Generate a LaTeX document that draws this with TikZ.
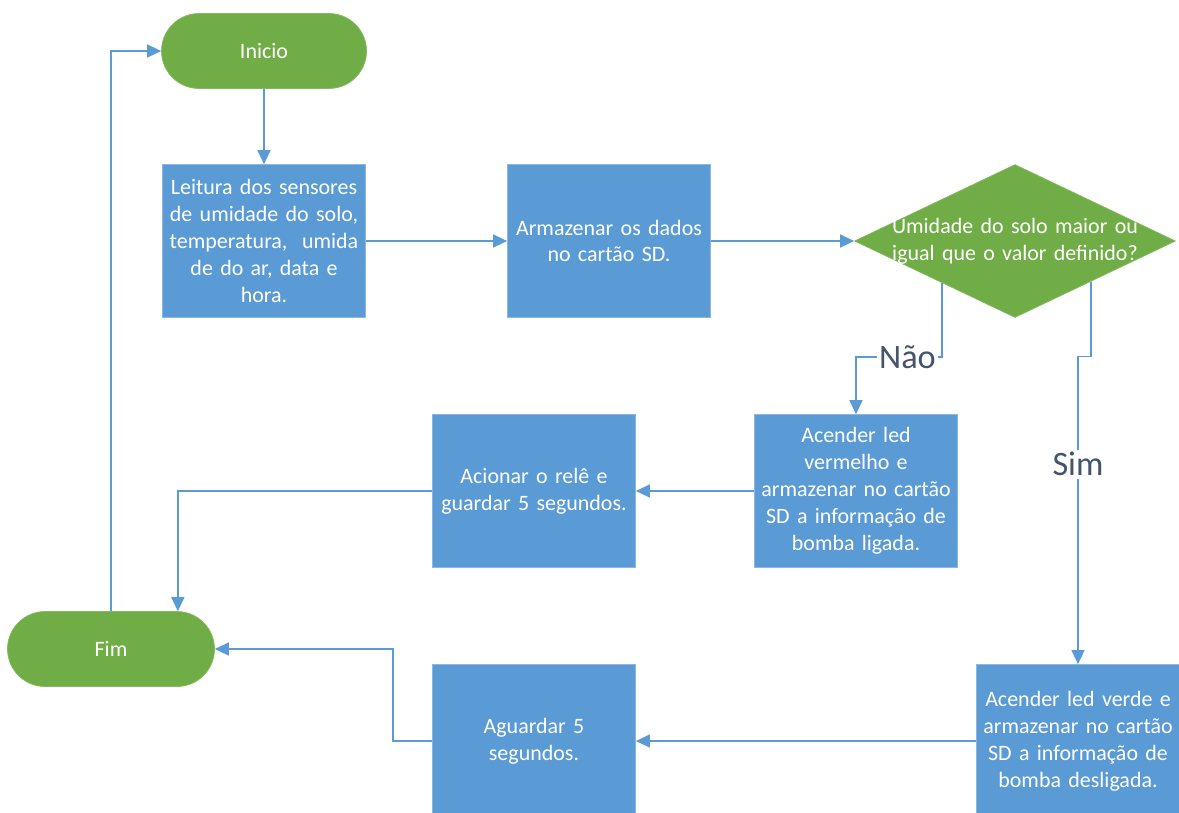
\documentclass[tikz,border=0pt]{standalone}
\usepackage{fontspec}
\setmainfont{Carlito}
\usepackage{xcolor}
\usepackage{tikz}
\usetikzlibrary{shapes.geometric, arrows.meta, calc}
\definecolor{boxblue}{HTML}{5B9BD5}
\definecolor{boxedge}{HTML}{8DB6E2}
\definecolor{termgreen}{HTML}{70AD47}
\definecolor{linkblue}{HTML}{5B9BD5}
\definecolor{labelgray}{HTML}{44546A}
\tikzstyle{terminal} = [rectangle, rounded corners=7.5mm, minimum width=4.1cm, minimum height=1.5cm, text centered, draw=termgreen!85!white, fill=termgreen, text=white, font=\fontsize{12.5}{15.3}\selectfont]
\tikzstyle{process} = [rectangle, minimum width=4.06cm, minimum height=3.06cm, text width=3.9cm, align=center, inner sep=0pt, draw=boxedge, fill=boxblue, text=white, font=\fontsize{12.5}{15.3}\selectfont]
\tikzstyle{decision} = [diamond, minimum width=6.42cm, minimum height=3.06cm, inner sep=0pt, draw=termgreen!85!white, fill=termgreen]
\tikzstyle{decisiontext} = [text width=6cm, align=center, text=white, font=\fontsize{12.5}{15.3}\selectfont]
\tikzstyle{answer} = [fill=white, text=labelgray, inner sep=1.5pt, font=\fontsize{19.5}{22}\selectfont]
\tikzstyle{arrow} = [draw=linkblue, line width=0.8pt, ->, >={Triangle[length=2.8mm, width=2.6mm]}]
\begin{document}
\begin{tikzpicture}[node distance=5cm]
            \clip (0,0) rectangle (23.58,-16.24);
            \fill[white] (0,0) rectangle (23.58,-16.24);
            \node (start) [terminal] at (5.28,-1.02) {Inicio};
            \node (read) [process, below of=start, yshift=1.2cm] {Leitura dos sensores\\de umidade do solo,\\temperatura,~ umida\\de do ar, data e\\hora.};
            \node (store) [process, right of=read, xshift=1.9cm] {Armazenar os dados\\no cartão SD.};
            \node (decision) [decision, right of=store, xshift=3.12cm] {};
            \node (decisiontxt) [decisiontext] at (decision.center) {Umidade do solo maior ou\\igual que o valor definido?};
            \node (redled) [process, below of=decision, xshift=-3.18cm] {Acender led\\vermelho e\\armazenar no cartão\\SD a informação de\\bomba ligada.};
            \node (relay) [process, left of=redled, xshift=-1.44cm] {Acionar o relê e\\guardar 5 segundos.};
            \node (greenled) [process, below of=redled, xshift=4.44cm] {Acender led verde e\\armazenar no cartão\\SD a informação de\\bomba desligada.};
            \node (wait) [process, left of=greenled, xshift=-5.88cm] {Aguardar 5\\segundos.};
            \node (stop) [terminal, minimum width=4.14cm] at (2.22,-12.98) {Fim};

            \coordinate (notout) at ($(decision.west)!0.545!(decision.south)$);
            \coordinate (yesout) at ($(decision.south)!0.472!(decision.east)$);
            \coordinate (stopin) at ($(stop.north east)+(-0.74,0)$);

            \draw [arrow] (start) -- (read);
            \draw [arrow] (read) -- (store);
            \draw [arrow] (store) -- (decision);
            \draw [arrow] (notout) -- ++(0,-1.48) -| node[answer, pos=0.2] (no) {Não} (redled.north);
            \draw [arrow] (yesout) -- ++(0,-1.5) -| node[answer, pos=0.675] (yes) {Sim} (greenled.north);
            \draw [arrow] (redled) -- (relay);
            \draw [arrow] (relay.west) -| (stopin);
            \draw [arrow] (greenled) -- (wait);
            \draw [arrow] (wait.west) -- ++(-0.78,0) |- (stop.east);
            \draw [arrow] (stop.north) |- (start.west);
        \end{tikzpicture}
\end{document}
